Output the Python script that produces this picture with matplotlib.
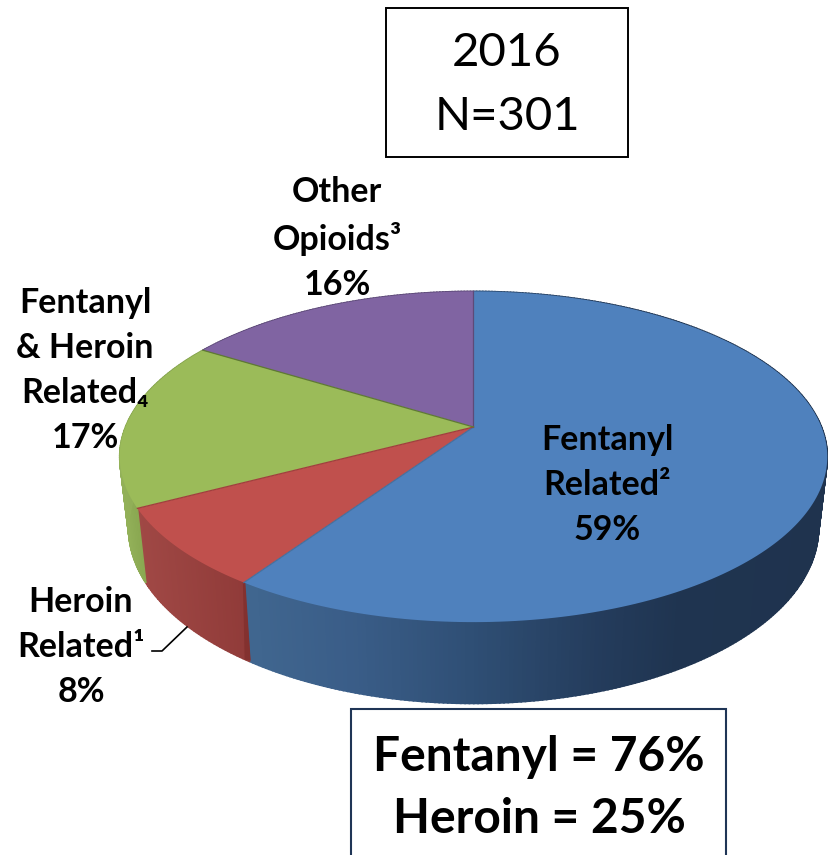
import numpy as np
import matplotlib
matplotlib.use('Agg')
import matplotlib.pyplot as plt
from matplotlib.colors import to_rgb
from matplotlib.patches import Rectangle

plt.rcParams['font.family'] = ['Lato', 'DejaVu Sans']

# shares of the pie, clockwise from 12 o'clock (estimated off the slice edges)
names = ['Fentanyl\nRelated²', 'Heroin\nRelated¹', 'Fentanyl\n& Heroin\nRelated₄', 'Other\nOpioids³']
values = [59.49, 7.8, 16.51, 16.2]
percent_labels = ['59%', '8%', '17%', '16%']
top_colors = ['#4f81bd', '#c0504d', '#9bbb59', '#8064a2']
edge_colors = ['#44709f', '#a03f3d', '#5f7a33', '#5d4a78']
label_pos = [(607, 485), (81, 647), (85, 370), (337, 238)]

title_lines = '2016\nN=301'
summary_lines = 'Fentanyl = 76%\nHeroin = 25%'

# side wall shading, left to right in pixels
wall_x = {
    0: ([250, 350, 470, 600, 680, 830], ['#40668f', '#3a5d88', '#2f4f75', '#243c5c', '#1f3450', '#1f334e']),
    1: ([137, 250], ['#a04845', '#8f3a38']),
    2: ([119, 145], ['#93b159', '#86a44e']),
    3: ([200, 480], ['#5d4a78', '#5d4a78']),
}

cx, cy = 473.5, 427
a, b, k = 348, 160, 0.18


def top_rim(theta):
    # clockwise angle from top, pushed through a simple perspective
    sx, sy = np.sin(theta), -np.cos(theta)
    d = 1 - k * sy
    return cx + a * sx / d, cy + b * sy / d


def bottom_rim(theta):
    x, y = top_rim(theta)
    return 475 + (x - 475) * 0.975, y * 1.06 + 44


def wall_color(i, x):
    xs, cols = wall_x[i]
    rgb = np.array([to_rgb(c) for c in cols])
    return [np.interp(x, xs, rgb[:, j]) for j in range(3)]


fig = plt.figure(figsize=(8.29, 8.55), dpi=100)
ax = fig.add_axes([0, 0, 1, 1])
ax.set_xlim(0, 829)
ax.set_ylim(855, 0)
ax.axis('off')

edges = np.radians(np.cumsum([0] + values) / sum(values) * 360)

# side wall first, top face then hides the back half
for i in range(len(values)):
    th = np.linspace(edges[i], edges[i + 1], int(values[i] * 6) + 2)
    for t0, t1 in zip(th[:-1], th[1:]):
        x0, y0 = top_rim(t0)
        x1, y1 = top_rim(t1)
        x2, y2 = bottom_rim(t1)
        x3, y3 = bottom_rim(t0)
        c = wall_color(i, (x0 + x1) / 2)
        ax.fill([x0, x1, x2, x3], [y0, y1, y2, y3], color=c, lw=1.2, zorder=1 + (np.cos(t0) < 0))

# dark seam where the red slice meets the blue one
x0, y0 = top_rim(edges[1])
x1, y1 = bottom_rim(edges[1])
ax.fill([x0, x0 + 1.5, x1 + 1, x1 - 5, x0 - 1], [y0, y0, y1 - 1, y1 - 2, y0], color='#83312f', lw=0, zorder=3)

for i in range(len(values)):
    th = np.linspace(edges[i], edges[i + 1], 200)
    x, y = top_rim(th)
    ax.fill(np.r_[cx, x], np.r_[cy, y], facecolor=top_colors[i], edgecolor='none', zorder=4)
for i in range(len(values)):
    x, y = top_rim(edges[i])
    ax.plot([cx, x], [cy, y], color=edge_colors[i - 1] if i > 0 else edge_colors[3], lw=0.9, zorder=5)

# leader line for the heroin slice
ax.plot([152, 162, 187], [651, 651, 627], color='black', lw=1.2, zorder=6)

for name, pct, (lx, ly) in zip(names, percent_labels, label_pos):
    ax.text(lx, ly, f'{name}\n{pct}', ha='center', va='center', fontsize=24.5, fontweight='bold',
            color='black', linespacing=1.5, zorder=7)

ax.add_patch(Rectangle((386, 8), 242, 149, facecolor='white', edgecolor='black', lw=1.4, zorder=6))
ax.text(507, 85, title_lines, ha='center', va='center', fontsize=34, color='black', linespacing=1.65, zorder=7)

ax.add_patch(Rectangle((351, 709), 375, 170, facecolor='white', edgecolor='#1f3556', lw=1.5, zorder=6))
ax.text(539, 788, summary_lines, ha='center', va='center', fontsize=34.5, fontweight='bold',
        color='black', linespacing=1.5, zorder=7)

fig.savefig('out.png', dpi=100)
